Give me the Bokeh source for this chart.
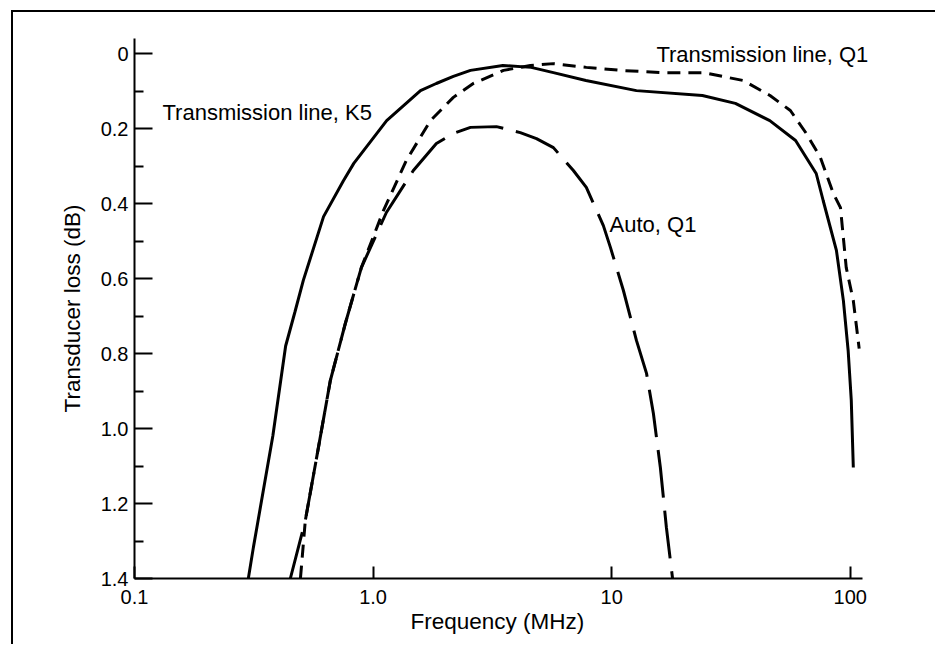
from bokeh.plotting import figure
from bokeh.models import Range1d, FixedTicker, Label, Title
from bokeh.embed import file_html
from bokeh.resources import INLINE

# ---- data ----
k5_freq = [0.30, 0.315, 0.38, 0.43, 0.47, 0.51, 0.62, 0.75, 0.83, 1.14, 1.58, 1.84, 2.17, 2.56, 3.5, 4.6,
           5.7, 7.8, 12.7, 24, 33, 46, 59, 72, 77, 87.5, 93.6, 98, 101, 103]
k5_loss = [1.40, 1.317, 1.02, 0.78, 0.69, 0.605, 0.435, 0.34, 0.293, 0.179, 0.099, 0.08, 0.061, 0.045, 0.032, 0.037,
           0.051, 0.072, 0.099, 0.112, 0.133, 0.179, 0.232, 0.32, 0.392, 0.525, 0.659, 0.792, 0.925, 1.104]

q1_freq = [0.496, 0.52, 0.59, 0.662, 0.765, 0.893, 1.105, 1.379, 1.739, 2.17, 2.63, 3.52, 4.56, 5.70,
           7.83, 10.9, 16.5, 24.2, 35.6, 46.1, 56.1, 65.4, 74.9, 84.9, 91, 96.2, 103, 109]
q1_loss = [1.40, 1.245, 1.051, 0.872, 0.72, 0.571, 0.419, 0.285, 0.179, 0.117, 0.08, 0.045, 0.032, 0.027,
           0.037, 0.045, 0.051, 0.051, 0.072, 0.112, 0.152, 0.213, 0.277, 0.373, 0.411, 0.571, 0.659, 0.787]

auto_freq = [0.45, 0.52, 0.59, 0.662, 0.765, 0.893, 1.137, 1.475, 1.842, 2.17, 2.56, 3.29, 4.14, 4.84,
             5.70, 6.91, 7.83, 9.23, 9.88, 11.2, 12.7, 14.0, 14.96, 16.0, 16.96, 18.0]
auto_loss = [1.40, 1.245, 1.051, 0.872, 0.72, 0.571, 0.424, 0.312, 0.24, 0.213, 0.197, 0.195, 0.211, 0.227,
             0.251, 0.312, 0.357, 0.459, 0.517, 0.632, 0.765, 0.853, 0.96, 1.104, 1.264, 1.40]

x_ticks = [0.1, 1, 10, 100]
x_tick_labels = ["0.1", "1.0", "10", "100"]
y_ticks = [0, 0.2, 0.4, 0.6, 0.8, 1.0, 1.2, 1.4]
y_tick_labels = ["0", "0.2", "0.4", "0.6", "0.8", "1.0", "1.2", "1.4"]
y_minor = [0.1, 0.3, 0.5, 0.7, 0.9, 1.1, 1.3]

label_texts = ["Transmission line, K5", "Transmission line, Q1", "Auto, Q1"]
label_x = [0.131, 15.4, 9.8]
label_y = [0.158, 0.003, 0.456]

FONT = "Liberation Sans"

# frame extends a little past the x axis so that the right-hand label is not clipped
p = figure(width=924, height=634, x_axis_type="log",
           x_range=Range1d(0.1, 197), y_range=Range1d(1.4, -0.04),
           output_backend="svg", toolbar_location=None,
           min_border_left=121, min_border_top=26, min_border_right=17, min_border_bottom=68,
           styles={"margin-left": "11px", "margin-top": "10px",
                   "border-left": "2px solid black", "border-top": "2px solid black"})

p.outline_line_color = None
p.grid.visible = False
p.background_fill_color = "white"
p.border_fill_color = "white"

# curves
p.line(k5_freq, k5_loss, line_color="black", line_width=3)
p.line(q1_freq, q1_loss, line_color="black", line_width=3, line_dash="13 8")
p.line(auto_freq, auto_loss, line_color="black", line_width=3, line_dash="48 13")

# axes
xa = p.xaxis[0]
xa.ticker = FixedTicker(ticks=x_ticks, minor_ticks=[])
xa.major_label_overrides = {t: l for t, l in zip(x_ticks, x_tick_labels)}
xa.bounds = (0.1, 113)
ya = p.yaxis[0]
ya.ticker = FixedTicker(ticks=y_ticks, minor_ticks=y_minor)
ya.major_label_overrides = {t: l for t, l in zip(y_ticks, y_tick_labels)}
ya.axis_label = "Transducer loss (dB)"

for ax in (xa, ya):
    ax.axis_line_color = "black"
    ax.axis_line_width = 2
    ax.major_tick_line_color = "black"
    ax.major_tick_line_width = 2
    ax.minor_tick_line_color = "black"
    ax.minor_tick_line_width = 2
    ax.major_tick_out = 0
    ax.minor_tick_out = 0
    ax.major_label_text_font = FONT
    ax.major_label_text_font_size = "20px"
    ax.major_label_text_color = "black"
    ax.axis_label_text_font = FONT
    ax.axis_label_text_font_size = "22.5px"
    ax.axis_label_text_font_style = "normal"
    ax.axis_label_text_color = "black"

xa.major_tick_in = 12
xa.major_label_standoff = 11
ya.major_tick_in = 18
ya.minor_tick_in = 9
ya.major_label_standoff = 6
ya.axis_label_standoff = 13

# x-axis title placed under the axis, aligned with the axis (not the wider frame)
p.add_layout(Title(text="Frequency (MHz)", align="left", offset=276, standoff=0,
                   text_font=FONT, text_font_size="22.5px", text_font_style="normal",
                   text_color="black"), "below")

for t, lx, ly in zip(label_texts, label_x, label_y):
    p.add_layout(Label(x=lx, y=ly, text=t, text_font=FONT, text_font_size="22px",
                       text_color="black", text_align="left", text_baseline="alphabetic"))

open("out.html", "w").write(file_html(p, INLINE))
